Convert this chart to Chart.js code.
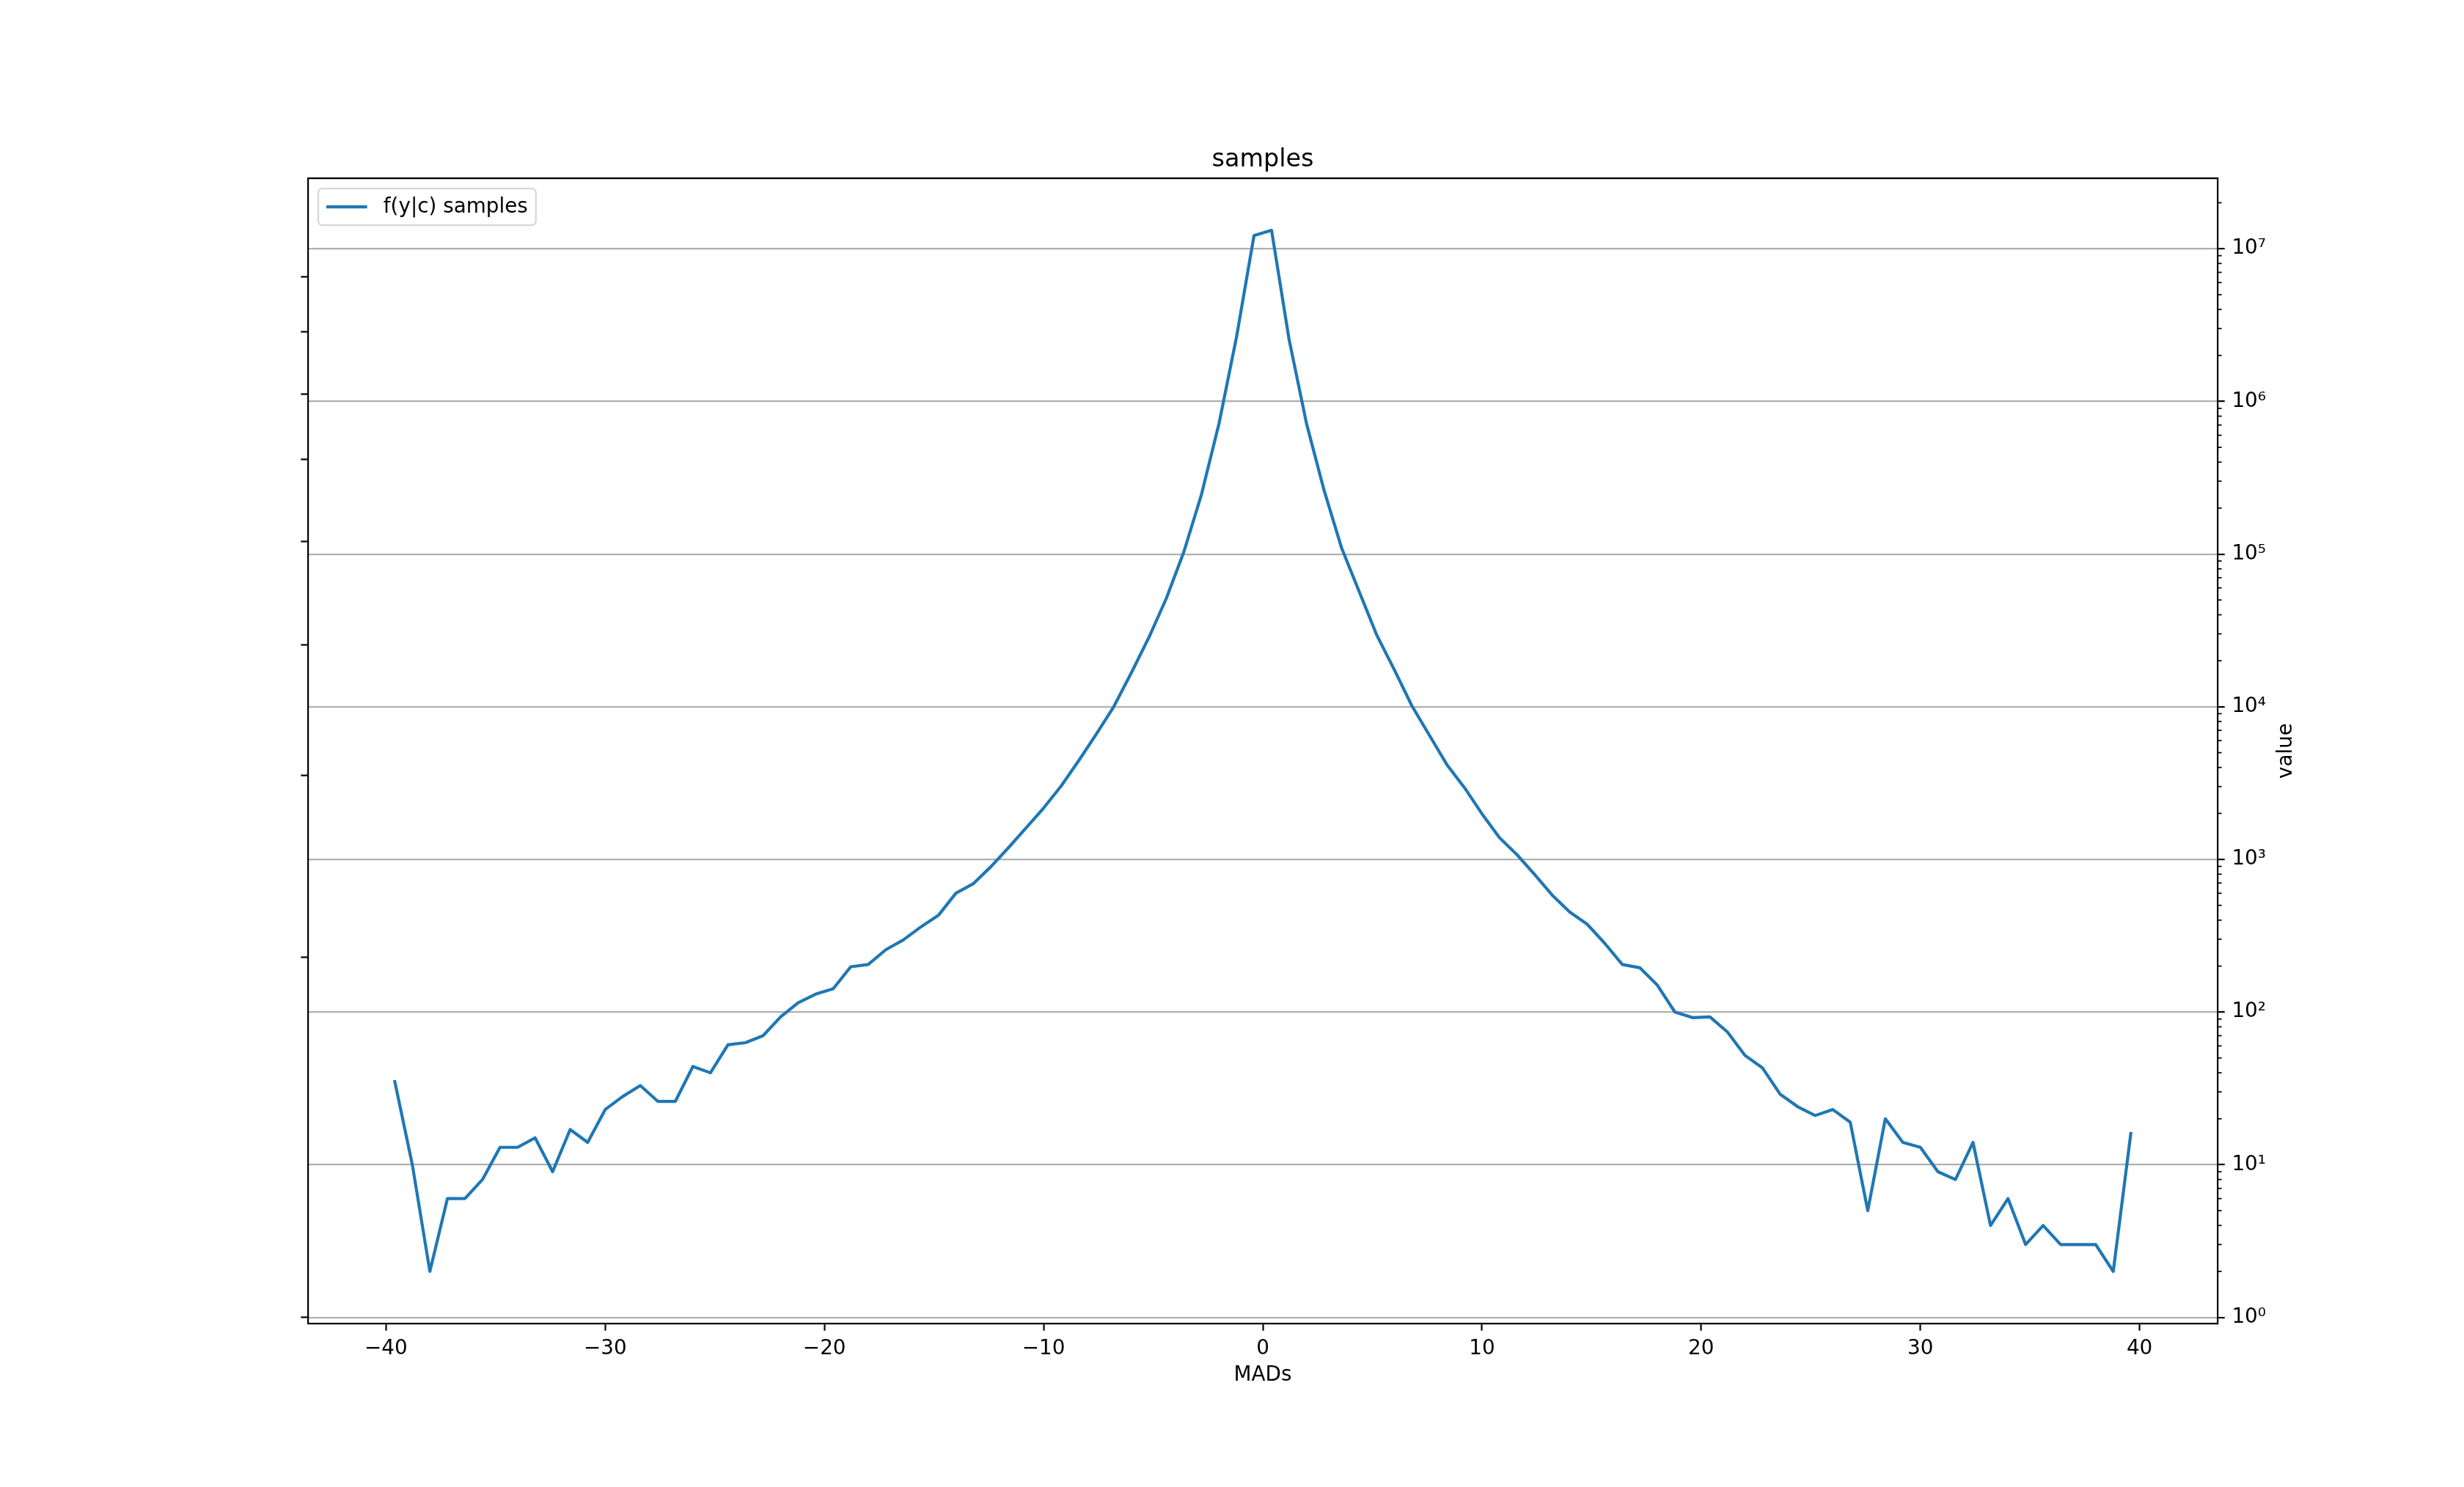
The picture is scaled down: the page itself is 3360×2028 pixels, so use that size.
<!DOCTYPE html>
<html>
<head>
<meta charset="utf-8">
<title>samples</title>
<script src="https://cdn.jsdelivr.net/npm/chart.js@4.4.1/dist/chart.umd.min.js"></script>
<style>
  html, body { margin: 0; padding: 0; background: #fff; }
  canvas { display: block; }
</style>
</head>
<body>
<canvas id="samplesChart" width="3360" height="2028"></canvas>
<script>
// bin centres (MADs)
const mads = [
  -39.6, -38.8, -38.0, -37.2, -36.4, -35.6, -34.8, -34.0, -33.2, -32.4,
  -31.6, -30.8, -30.0, -29.2, -28.4, -27.6, -26.8, -26.0, -25.2, -24.4,
  -23.6, -22.8, -22.0, -21.2, -20.4, -19.6, -18.8, -18.0, -17.2, -16.4,
  -15.6, -14.8, -14.0, -13.2, -12.4, -11.6, -10.8, -10.0, -9.2, -8.4,
  -7.6, -6.8, -6.0, -5.2, -4.4, -3.6, -2.8, -2.0, -1.2, -0.4,
  0.4, 1.2, 2.0, 2.8, 3.6, 4.4, 5.2, 6.0, 6.8, 7.6,
  8.4, 9.2, 10.0, 10.8, 11.6, 12.4, 13.2, 14.0, 14.8, 15.6,
  16.4, 17.2, 18.0, 18.8, 19.6, 20.4, 21.2, 22.0, 22.8, 23.6,
  24.4, 25.2, 26.0, 26.8, 27.6, 28.4, 29.2, 30.0, 30.8, 31.6,
  32.4, 33.2, 34.0, 34.8, 35.6, 36.4, 37.2, 38.0, 38.8, 39.6
];

// f(y|c) samples per bin
const counts = [
  35, 10, 2, 6, 6, 8, 13, 13, 15, 9,
  17, 14, 23, 28, 33, 26, 26, 44, 40, 61,
  63, 70, 93, 115, 131, 142, 198, 205, 256, 297,
  361, 430, 601, 694, 897, 1194, 1607, 2168, 3024, 4426,
  6607, 10000, 16640, 28370, 51290, 103500, 245000, 713000, 2630000, 12200000,
  13200000, 2540000, 710000, 260000, 109000, 56600, 29400, 17470, 10150, 6500,
  4169, 2951, 1987, 1387, 1072, 796, 584, 452, 376, 282,
  205, 195, 150, 100, 92, 93, 74, 52, 43, 29,
  24, 21, 23, 19, 5, 20, 14, 13, 9, 8,
  14, 4, 6, 3, 4, 3, 3, 3, 2, 16
];

const xTicks = [-40, -30, -20, -10, 0, 10, 20, 30, 40];
const xTickLabels = ['\u221240', '\u221230', '\u221220', '\u221210', '0', '10', '20', '30', '40'];
const yTicks = [1, 10, 100, 1e3, 1e4, 1e5, 1e6, 1e7];
const yTickLabels = ['10\u2070', '10\u00b9', '10\u00b2', '10\u00b3', '10\u2074', '10\u2075', '10\u2076', '10\u2077'];
// unlabeled ticks on the left spine
const leftTicks = [1, 229, 3556, 25410, 121100, 416900, 1117000, 2858000, 6546000];

// matplotlib style 5% margins (log space for y)
const xSpan = mads[mads.length - 1] - mads[0];
const xMin = mads[0] - 0.05 * xSpan;
const xMax = mads[mads.length - 1] + 0.05 * xSpan;
const lo = Math.log10(Math.min(...counts));
const hi = Math.log10(Math.max(...counts));
const yMin = Math.pow(10, lo - 0.05 * (hi - lo));
const yMax = Math.pow(10, hi + 0.05 * (hi - lo));

const FS = 27.8;
Chart.defaults.font.family = '"DejaVu Sans", sans-serif';
Chart.defaults.font.size = FS;
Chart.defaults.color = '#000';

function roundedRect(ctx, x, y, w, h, r) {
  ctx.beginPath();
  ctx.moveTo(x + r, y);
  ctx.arcTo(x + w, y, x + w, y + h, r);
  ctx.arcTo(x + w, y + h, x, y + h, r);
  ctx.arcTo(x, y + h, x, y, r);
  ctx.arcTo(x, y, x + w, y, r);
  ctx.closePath();
}

const extras = {
  id: 'extras',
  afterDraw(chart) {
    const { ctx, chartArea: a, scales } = chart;
    ctx.save();

    // top spine
    ctx.strokeStyle = '#000';
    ctx.lineWidth = 2.2;
    ctx.beginPath();
    ctx.moveTo(a.left - 1.1, a.top);
    ctx.lineTo(a.right + 1.1, a.top);
    ctx.stroke();

    // minor ticks on the log axis
    const y = scales.y;
    ctx.lineWidth = 1.7;
    for (let k = 0; k <= 7; k++) {
      for (let m = 2; m <= 9; m++) {
        const v = m * Math.pow(10, k);
        if (v < y.min || v > y.max) continue;
        const py = y.getPixelForValue(v);
        ctx.beginPath();
        ctx.moveTo(a.right, py);
        ctx.lineTo(a.right + 5.6, py);
        ctx.stroke();
      }
    }

    // right axis label, reading upwards
    ctx.fillStyle = '#000';
    ctx.font = FS + 'px "DejaVu Sans"';
    ctx.textAlign = 'center';
    ctx.textBaseline = 'middle';
    ctx.translate(a.right + 94, (a.top + a.bottom) / 2);
    ctx.rotate(-Math.PI / 2);
    ctx.fillText('value', 0, 0);
    ctx.setTransform(1, 0, 0, 1, 0, 0);

    // legend, upper left inside the axes
    const ds = chart.data.datasets[0];
    const tw = ctx.measureText(ds.label).width;
    const bx = a.left + 14, by = a.top + 14;
    const bw = 11 + 55.6 + 22.2 + tw + 11, bh = 50;
    roundedRect(ctx, bx, by, bw, bh, 5.5);
    ctx.fillStyle = 'rgba(255,255,255,0.8)';
    ctx.fill();
    ctx.strokeStyle = 'rgba(204,204,204,0.8)';
    ctx.lineWidth = 2.2;
    ctx.stroke();
    ctx.strokeStyle = ds.borderColor;
    ctx.lineWidth = ds.borderWidth;
    ctx.beginPath();
    ctx.moveTo(bx + 11, by + bh / 2);
    ctx.lineTo(bx + 66.6, by + bh / 2);
    ctx.stroke();
    ctx.fillStyle = '#000';
    ctx.textAlign = 'left';
    ctx.fillText(ds.label, bx + 88.8, by + bh / 2 + 1);

    ctx.restore();
  }
};

new Chart(document.getElementById('samplesChart'), {
  type: 'line',
  data: {
    datasets: [{
      label: 'f(y|c) samples',
      data: mads.map((x, i) => ({ x, y: counts[i] })),
      borderColor: '#1f77b4',
      borderWidth: 4.2,
      borderJoinStyle: 'round',
      borderCapStyle: 'square',
      pointRadius: 0,
      tension: 0,
      fill: false,
      xAxisID: 'x',
      yAxisID: 'y'
    }]
  },
  options: {
    responsive: false,
    animation: false,
    layout: { padding: { left: 408, right: 0, top: 0, bottom: 0 } },
    plugins: {
      legend: { display: false },
      tooltip: { enabled: false },
      title: {
        display: true,
        text: 'samples',
        fullSize: false,
        font: { size: 33.4, weight: 'normal' },
        padding: { top: 198, bottom: 5 }
      }
    },
    scales: {
      x: {
        type: 'linear',
        position: 'bottom',
        min: xMin,
        max: xMax,
        afterBuildTicks: s => { s.ticks = xTicks.map(v => ({ value: v })); },
        afterFit: s => { s.height = 223; },
        ticks: { callback: (v, i) => xTickLabels[i], padding: 8, maxRotation: 0, autoSkip: false },
        grid: { drawOnChartArea: false, drawTicks: true, tickLength: 9.7, tickWidth: 2.2, tickColor: '#000' },
        border: { color: '#000', width: 2.2 },
        title: { display: true, text: 'MADs', padding: { top: 0, bottom: 136 } }
      },
      yL: {
        type: 'logarithmic',
        position: 'left',
        min: yMin,
        max: yMax,
        afterBuildTicks: s => { s.ticks = leftTicks.map(v => ({ value: v })); },
        afterFit: s => { s.width = 12; },
        ticks: { callback: () => '', padding: 0, autoSkip: false },
        grid: { drawOnChartArea: false, tickLength: 9.7, tickWidth: 2.2, tickColor: '#000' },
        border: { color: '#000', width: 2.2 }
      },
      y: {
        type: 'logarithmic',
        position: 'right',
        min: yMin,
        max: yMax,
        afterBuildTicks: s => { s.ticks = yTicks.map(v => ({ value: v, major: true })); },
        afterFit: s => { s.width = 336; },
        ticks: { callback: (v, i) => yTickLabels[i], padding: 9.7, autoSkip: false },
        grid: { color: '#b0b0b0', lineWidth: 2.2, tickLength: 9.7, tickWidth: 2.2, tickColor: '#000' },
        border: { color: '#000', width: 2.2 }
      }
    }
  },
  plugins: [extras]
});
</script>
</body>
</html>
